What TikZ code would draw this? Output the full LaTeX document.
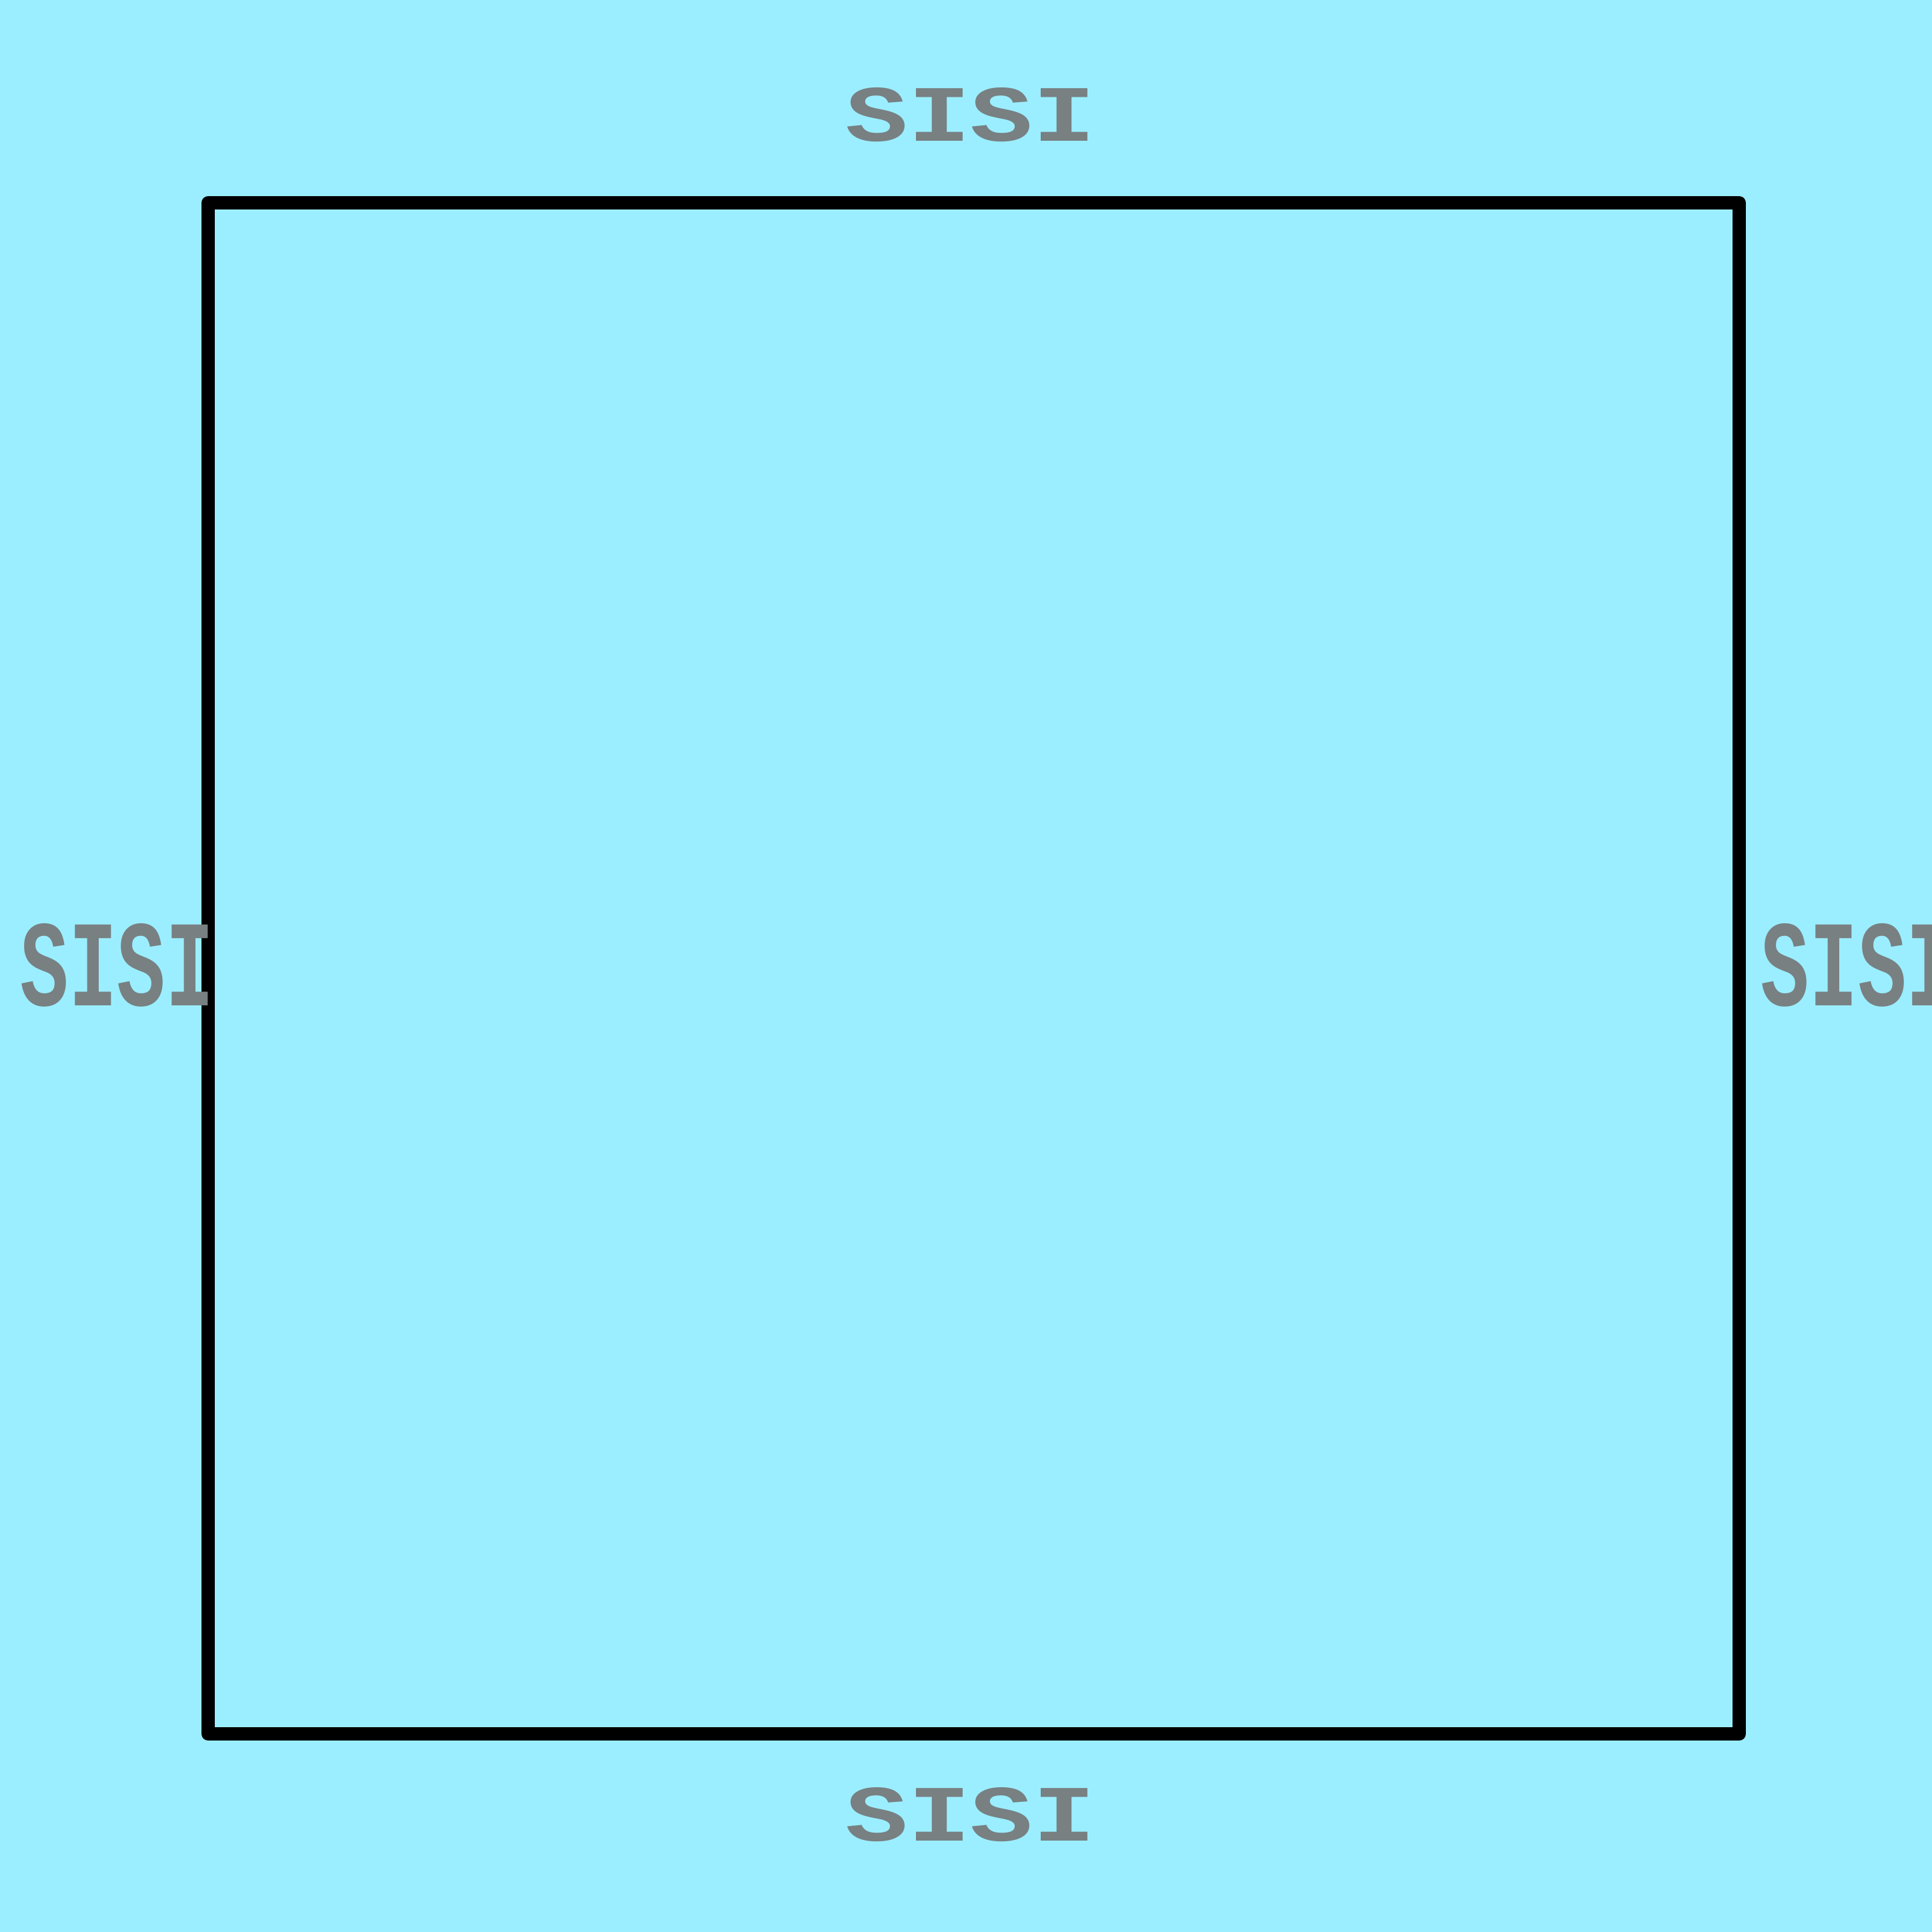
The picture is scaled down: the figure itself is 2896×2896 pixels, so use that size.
\documentclass[tikz,border=0pt]{standalone}
\usepackage{fontspec}
\usepackage{graphicx}
\setmonofont{Liberation Mono}
\definecolor{bgcyan}{RGB}{155,238,255}
\definecolor{txtgray}{RGB}{120,128,130}
\begin{document}
\begin{tikzpicture}[x=0.01cm,y=-0.01cm,
  frame/.style={draw=black,line width=0.2cm,line join=round},
  lbl/.style={text=txtgray,inner sep=0pt,font=\ttfamily\bfseries}]
\fill[bgcyan] (0,0) rectangle (2896,2896);
\useasboundingbox (0,0) rectangle (2896,2896);
\coordinate (tl) at (312,304);
\coordinate (br) at (2607,2599);
\draw[frame] (tl) rectangle (br);
\node[lbl] (top) at (1455,172) {\resizebox{3.75cm}{0.8cm}{SISI}};
\node[lbl] (bottom) at (1455,2720) {\resizebox{3.75cm}{0.8cm}{SISI}};
\node[lbl] (left) at (176,1447) {\resizebox{2.9cm}{1.23cm}{SISI}};
\node[lbl] (right) at (2785,1447) {\resizebox{2.9cm}{1.23cm}{SISI}};
\end{tikzpicture}
\end{document}
